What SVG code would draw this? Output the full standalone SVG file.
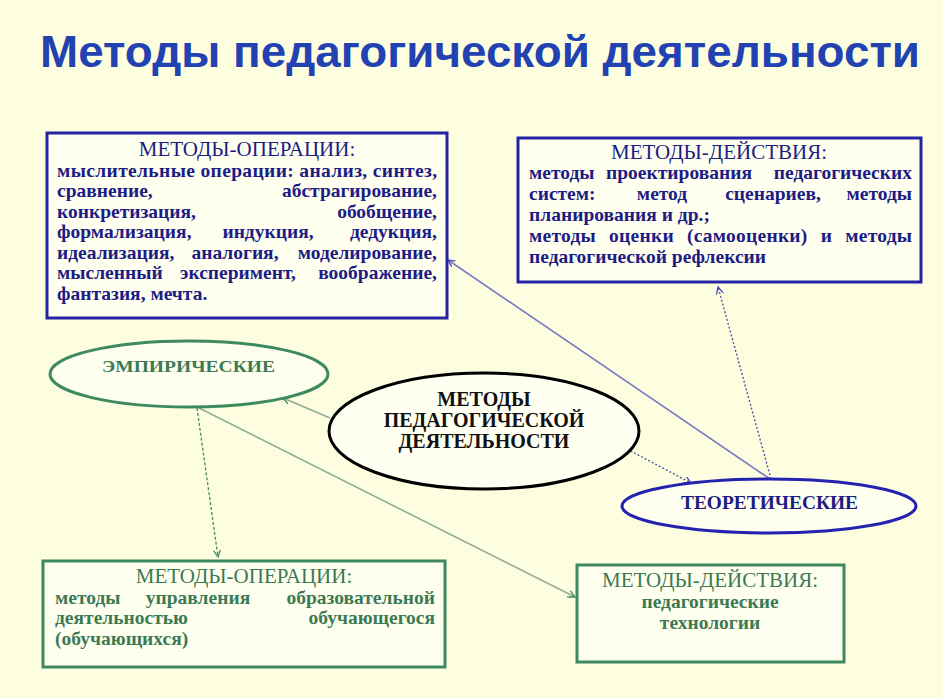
<svg xmlns="http://www.w3.org/2000/svg" width="943" height="698" viewBox="0 0 943 698">
<defs>
<marker id="ab" viewBox="0 0 8 8" refX="7" refY="4" markerWidth="8" markerHeight="8" orient="auto" markerUnits="userSpaceOnUse">
<path d="M0,0.5 L7,4 L0,7.5" fill="none" stroke="#4a4ab0" stroke-width="1.3"/>
</marker>
<marker id="ag" viewBox="0 0 8 8" refX="7" refY="4" markerWidth="8" markerHeight="8" orient="auto" markerUnits="userSpaceOnUse">
<path d="M0,0.5 L7,4 L0,7.5" fill="none" stroke="#4a8a5e" stroke-width="1.3"/>
</marker>
<style>
.bg{fill:#fdfddf}
.title{font-family:"Liberation Sans",Arial,sans-serif;font-weight:bold;font-size:45px;fill:#2242b2}
.bbox{fill:#fffff0;stroke:#2323a3;stroke-width:3}
.gbox{fill:#fffff0;stroke:#3e8a5e;stroke-width:3}
.t{font-family:"Liberation Serif","Times New Roman",serif}
.bh{font-size:21px;fill:#1c1c84}
.bt{font-size:19.5px;font-weight:bold;fill:#1c1c84}
.gh{font-size:21px;fill:#3b7a52}
.gt{font-size:19.5px;font-weight:bold;fill:#3b7a52}
.m{text-anchor:middle}
.e{text-anchor:end}
.cb{fill:none;stroke:#7b7bc4;stroke-width:1.6}
.cbd{fill:none;stroke:#5555b0;stroke-width:1.4;stroke-dasharray:2 2}
.cg{fill:none;stroke:#8fae96;stroke-width:1.6}
.cgd{fill:none;stroke:#4a8a5e;stroke-width:1.3;stroke-dasharray:3 2}
</style>
</defs>
<rect class="bg" x="0" y="0" width="943" height="698"/>
<text class="title" x="40" y="67" textLength="880" lengthAdjust="spacingAndGlyphs">Методы педагогической деятельности</text>

<g id="connectors">
<path class="cb" d="M770,479 L448,260" marker-end="url(#ab)"/>
<path class="cbd" d="M771,479 L718,287" marker-end="url(#ab)"/>
<path class="cbd" d="M627,449 L691,483" marker-end="url(#ab)"/>
<path class="cg" d="M330,418 L283,398" marker-end="url(#ag)"/>
<path class="cgd" d="M197,408 L218,557" marker-end="url(#ag)"/>
<path class="cg" d="M199,408 L575,597" marker-end="url(#ag)"/>
</g>

<g id="ops-top">
<rect class="bbox" x="47" y="133" width="400" height="185"/>
<text class="t bh m" x="247" y="156">МЕТОДЫ-ОПЕРАЦИИ:</text>
<text class="t bt" x="57" y="177" textLength="380" lengthAdjust="spacing">мыслительные операции: анализ, синтез,</text>
<text class="t bt" x="57" y="197">сравнение,</text>
<text class="t bt e" x="437" y="197">абстрагирование,</text>
<text class="t bt" x="57" y="218">конкретизация,</text>
<text class="t bt e" x="437" y="218">обобщение,</text>
<text class="t bt" x="57" y="238">формализация,</text>
<text class="t bt m" x="268" y="238">индукция,</text>
<text class="t bt e" x="437" y="238">дедукция,</text>
<text class="t bt" x="57" y="259">идеализация,</text>
<text class="t bt m" x="235" y="259">аналогия,</text>
<text class="t bt e" x="437" y="259">моделирование,</text>
<text class="t bt" x="57" y="279">мысленный</text>
<text class="t bt m" x="238" y="279">эксперимент,</text>
<text class="t bt e" x="437" y="279">воображение,</text>
<text class="t bt" x="57" y="300">фантазия, мечта.</text>
</g>

<g id="acts-top">
<rect class="bbox" x="518" y="138" width="403" height="144"/>
<text class="t bh m" x="719" y="159">МЕТОДЫ-ДЕЙСТВИЯ:</text>
<text class="t bt" x="529" y="179">методы</text>
<text class="t bt m" x="679" y="179">проектирования</text>
<text class="t bt e" x="912" y="179">педагогических</text>
<text class="t bt" x="529" y="200">систем:</text>
<text class="t bt m" x="662" y="200">метод</text>
<text class="t bt m" x="773" y="200">сценариев,</text>
<text class="t bt e" x="912" y="200">методы</text>
<text class="t bt" x="529" y="221">планирования и др.;</text>
<text class="t bt" x="529" y="242" textLength="383" lengthAdjust="spacing" word-spacing="8">методы оценки (самооценки) и методы</text>
<text class="t bt" x="529" y="263">педагогической рефлексии</text>
</g>

<g id="empirical">
<ellipse cx="189" cy="374" rx="139" ry="33" fill="#fffff0" stroke="#3e8a5e" stroke-width="3"/>
<text class="t" x="102" y="372" font-size="17" font-weight="bold" fill="#3b7a52" textLength="173" lengthAdjust="spacingAndGlyphs">ЭМПИРИЧЕСКИЕ</text>
</g>

<g id="center">
<ellipse cx="484" cy="431" rx="155" ry="58" fill="#fffff2" stroke="#000" stroke-width="3"/>
<text class="t m" x="484" y="406" font-size="20" font-weight="bold" fill="#111">МЕТОДЫ</text>
<text class="t m" x="484" y="427" font-size="20" font-weight="bold" fill="#111">ПЕДАГОГИЧЕСКОЙ</text>
<text class="t m" x="484" y="448" font-size="20" font-weight="bold" fill="#111">ДЕЯТЕЛЬНОСТИ</text>
</g>

<g id="theoretical">
<ellipse cx="769" cy="506" rx="147" ry="27" fill="#fffff0" stroke="#2323b0" stroke-width="3"/>
<text class="t" x="681" y="509" font-size="18" font-weight="bold" fill="#1c1c84" textLength="177" lengthAdjust="spacingAndGlyphs">ТЕОРЕТИЧЕСКИЕ</text>
</g>

<g id="ops-bottom">
<rect class="gbox" x="43" y="561" width="402" height="106"/>
<text class="t gh m" x="244" y="583">МЕТОДЫ-ОПЕРАЦИИ:</text>
<text class="t gt" x="55" y="604">методы</text>
<text class="t gt m" x="198" y="604">управления</text>
<text class="t gt e" x="435" y="604">образовательной</text>
<text class="t gt" x="55" y="624">деятельностью</text>
<text class="t gt e" x="435" y="624">обучающегося</text>
<text class="t gt" x="55" y="645">(обучающихся)</text>
</g>

<g id="acts-bottom">
<rect class="gbox" x="577" y="565" width="267" height="97"/>
<text class="t gh m" x="710" y="587">МЕТОДЫ-ДЕЙСТВИЯ:</text>
<text class="t gt m" x="710" y="608" font-size="17.5">педагогические</text>
<text class="t gt m" x="710" y="629" font-size="17.5">технологии</text>
</g>
</svg>
